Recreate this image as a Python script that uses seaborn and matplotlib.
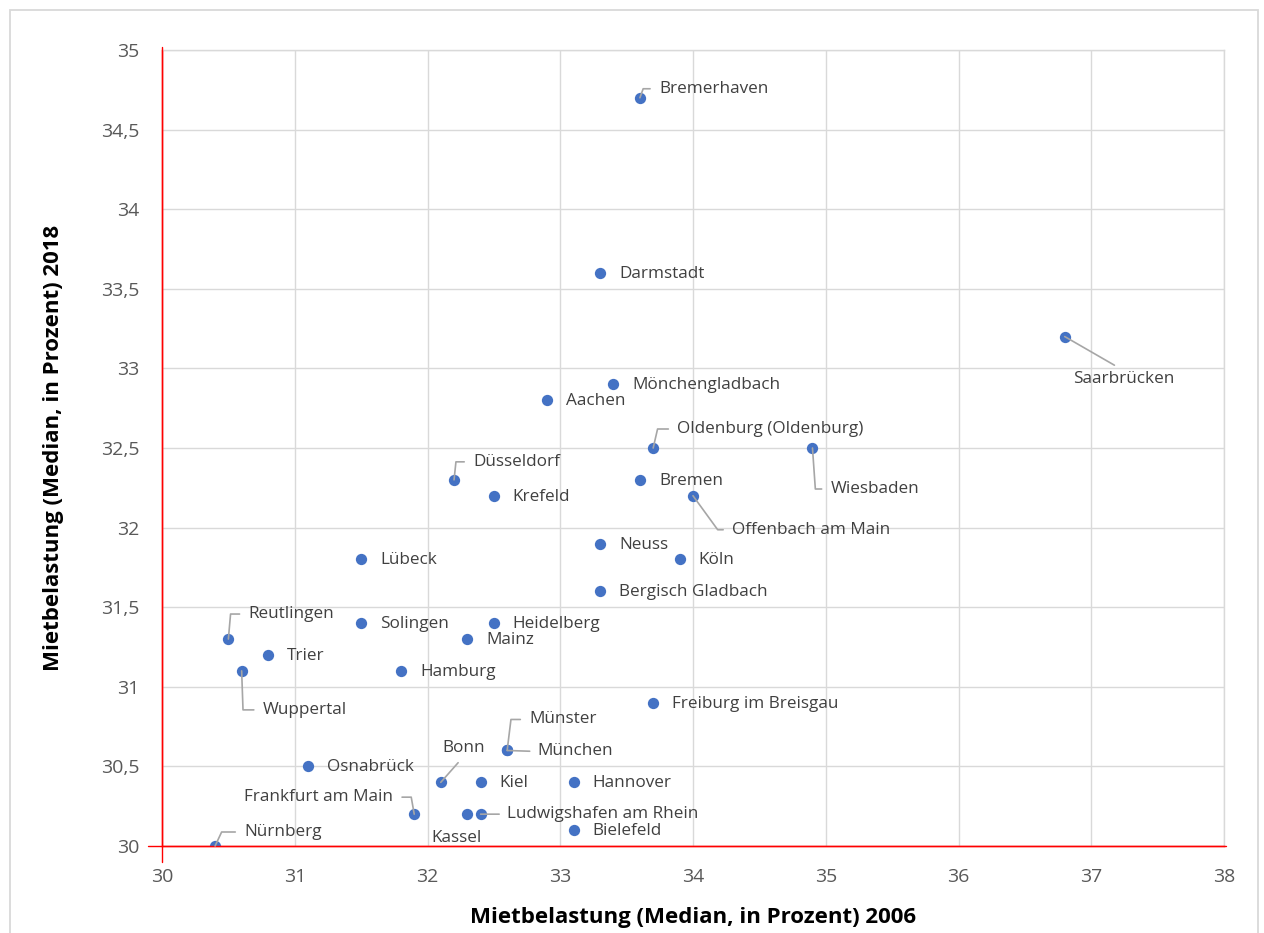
import matplotlib
matplotlib.use("Agg")
import matplotlib.pyplot as plt
import seaborn as sns
import pandas as pd
from matplotlib.ticker import FuncFormatter
from matplotlib.patches import Rectangle

# ---------------- data ----------------
cities = ["Bremerhaven", "Darmstadt", "Saarbrücken", "Mönchengladbach", "Aachen",
          "Oldenburg (Oldenburg)", "Wiesbaden", "Düsseldorf", "Bremen", "Krefeld",
          "Offenbach am Main", "Neuss", "Lübeck", "Köln", "Bergisch Gladbach",
          "Reutlingen", "Solingen", "Heidelberg", "Mainz", "Trier", "Wuppertal",
          "Hamburg", "Freiburg im Breisgau", "Münster", "München", "Osnabrück",
          "Bonn", "Kiel", "Hannover", "Frankfurt am Main", "Kassel",
          "Ludwigshafen am Rhein", "Bielefeld", "Nürnberg"]
rent_2006 = [33.6, 33.3, 36.8, 33.4, 32.9,
             33.7, 34.9, 32.2, 33.6, 32.5,
             34.0, 33.3, 31.5, 33.9, 33.3,
             30.5, 31.5, 32.5, 32.3, 30.8, 30.6,
             31.8, 33.7, 32.6, 32.6, 31.1,
             32.1, 32.4, 33.1, 31.9, 32.3,
             32.4, 33.1, 30.4]
rent_2018 = [34.7, 33.6, 33.2, 32.9, 32.8,
             32.5, 32.5, 32.3, 32.3, 32.2,
             32.2, 31.9, 31.8, 31.8, 31.6,
             31.3, 31.4, 31.4, 31.3, 31.2, 31.1,
             31.1, 30.9, 30.6, 30.6, 30.5,
             30.4, 30.4, 30.4, 30.2, 30.2,
             30.2, 30.1, 30.0]
x_ticks = [30, 31, 32, 33, 34, 35, 36, 37, 38]
y_ticks = [30, 30.5, 31, 31.5, 32, 32.5, 33, 33.5, 34, 34.5, 35]
x_title = "Mietbelastung (Median, in Prozent) 2006"
y_title = "Mietbelastung (Median, in Prozent) 2018"

df = pd.DataFrame({"city": cities, "x": rent_2006, "y": rent_2018})

# label placement: (dx px, dy px (down positive), ha, leader)
default_place = (19, 1, "left", None)
label_place = {
    "Bremerhaven": (19, -9, "left", ("elbow", 70)),
    "Saarbrücken": (59, 42, "center", "straight_top"),
    "Oldenburg (Oldenburg)": (24, -19, "left", ("elbow", 77)),
    "Wiesbaden": (18, 41, "left", ("elbow", -86)),
    "Düsseldorf": (19, -18, "left", ("elbow", 84)),
    "Offenbach am Main": (39, 34, "left", ("elbow", -54)),
    "Reutlingen": (20, -25, "left", ("elbow", 85)),
    "Wuppertal": (21, 39, "left", ("elbow", -88)),
    "Münster": (22, -31, "left", ("elbow", 83)),
    "München": (30, 1, "left", "straight"),
    "Bonn": (23, -34, "center", "straight_bottom"),
    "Frankfurt am Main": (-21, -17, "right", ("elbow", 100)),
    "Kassel": (-11, 24, "center", None),
    "Ludwigshafen am Rhein": (26, 0, "left", "straight"),
    "Nürnberg": (29, -14, "left", ("elbow", 65)),
}

# ---------------- style ----------------
sns.set_theme(style="white")
plt.rcParams["font.family"] = ["Open Sans", "DejaVu Sans"]

W, H = 1264, 933
fig = plt.figure(figsize=(W / 100, H / 100), dpi=100)
ax = fig.add_axes([162 / W, 1 - 846 / H, (1224 - 162) / W, (846 - 50) / H])

grid_c = "#d9d9d9"
fig.patches.append(Rectangle((10 / W, -0.05), (1258 - 10) / W, 1 - 10 / H + 0.05,
                             transform=fig.transFigure, fill=False,
                             edgecolor=grid_c, lw=1.3, zorder=0))

sns.scatterplot(data=df, x="x", y="y", ax=ax, color="#4472C4", s=66,
                edgecolor="#4472C4", linewidth=0, zorder=5, legend=False)

ax.set_xlim(30, 38)
ax.set_ylim(30, 35)
ax.set_xticks(x_ticks)
ax.set_yticks(y_ticks)
ax.yaxis.set_major_formatter(FuncFormatter(
    lambda v, p: (f"{v:.1f}".replace(".", ",") if v % 1 else f"{int(v)}")))
ax.grid(True, color=grid_c, lw=1.0, zorder=0)
ax.set_axisbelow(True)
for s in ["top", "right"]:
    ax.spines[s].set_visible(True)
    ax.spines[s].set_color(grid_c)
    ax.spines[s].set_linewidth(1.0)
ax.spines["left"].set_color("#ff0000")
ax.spines["bottom"].set_color("#ff0000")
ax.spines["left"].set_linewidth(1.0)
ax.spines["bottom"].set_linewidth(1.0)
# axis line extensions (Excel-style crossing)
ax.plot([0, 0], [-0.02, 1.004], transform=ax.transAxes, color="#ff0000",
        lw=1.0, clip_on=False, zorder=6)
ax.plot([-0.013, 1.002], [0, 0], transform=ax.transAxes, color="#ff0000",
        lw=1.0, clip_on=False, zorder=6)

ax.tick_params(axis="both", length=0, labelsize=14, labelcolor="#595959")
ax.tick_params(axis="y", pad=16)
ax.tick_params(axis="x", pad=16)

ax.set_xlabel(x_title, fontsize=16, fontweight="bold", color="#000000", labelpad=15)
ax.set_ylabel(y_title, fontsize=16, fontweight="bold", color="#000000", labelpad=27)

lead_c = "#a6a6a6"
for _, r in df.iterrows():
    dx, dy, ha, leader = label_place.get(r.city, default_place)
    kw = dict(xy=(r.x, r.y), xytext=(dx, -dy), textcoords="offset pixels",
              ha=ha, va="center", fontsize=12.3, color="#404040", zorder=7)
    if leader is None:
        ax.annotate(r.city, **kw)
    elif leader == "straight":
        ax.annotate(r.city, arrowprops=dict(arrowstyle="-", color=lead_c, lw=1.2,
                                            relpos=(0, 0.5), shrinkA=3, shrinkB=0),
                    **kw)
    elif leader == "straight_top":
        ax.annotate(r.city, arrowprops=dict(arrowstyle="-", color=lead_c, lw=1.2,
                                            relpos=(0.5, 1.0), shrinkA=3, shrinkB=0),
                    **kw)
    elif leader == "straight_bottom":
        ax.annotate(r.city, arrowprops=dict(arrowstyle="-", color=lead_c, lw=1.2,
                                            relpos=(0.5, 0.0), shrinkA=3, shrinkB=0),
                    **kw)
    else:
        angB = leader[1]
        rp = (1, 0.5) if ha == "right" else (0, 0.5)
        ax.annotate(r.city, arrowprops=dict(arrowstyle="-", color=lead_c, lw=1.2,
                                            relpos=rp, shrinkA=4, shrinkB=0,
                                            connectionstyle=f"angle,angleA=0,angleB={angB},rad=0"),
                    **kw)

fig.savefig("out.png", dpi=100)
